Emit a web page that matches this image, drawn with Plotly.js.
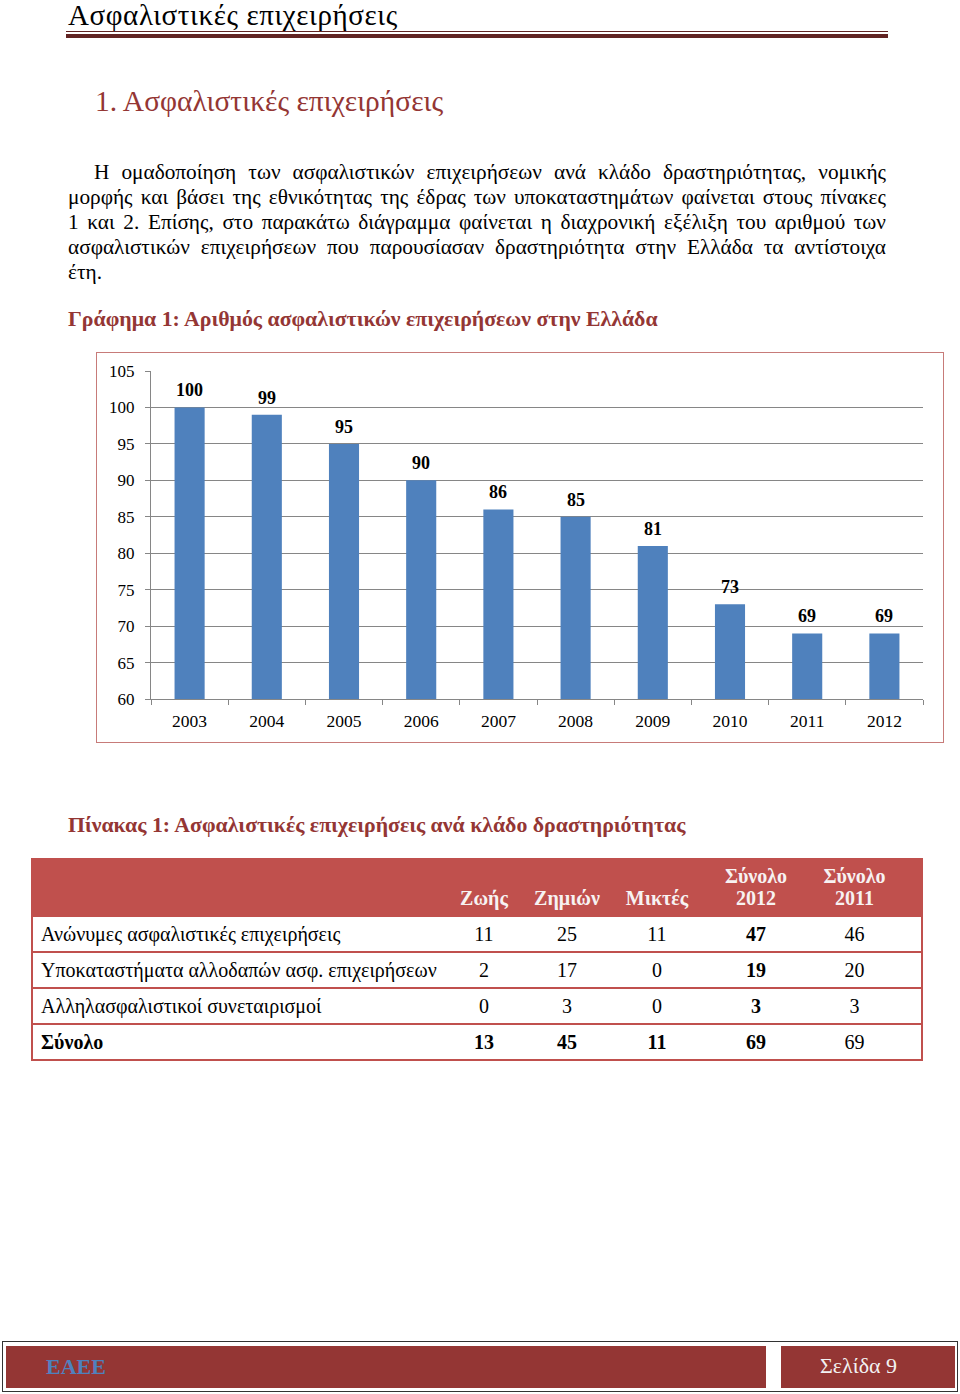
<!DOCTYPE html>
<html>
<head>
<meta charset="utf-8">
<script src="https://cdn.plot.ly/plotly-3.0.1.min.js"></script>
<style>
  html, body { margin:0; padding:0; background:#fff; }
  body { width:960px; height:1394px; position:relative; overflow:hidden; font-family:"Liberation Serif", "DejaVu Serif", serif; color:#000; }
  .abs { position:absolute; white-space:nowrap; }
  #hdr { left:68px; top:0px; font-size:29px; line-height:31px; letter-spacing:0.6px; }
  #hdrline1 { position:absolute; left:66px; top:31px; width:822px; height:1px; background:#622423; }
  #hdrline2 { position:absolute; left:66px; top:34px; width:822px; height:4px; background:#622423; }
  #sec { left:95px; top:84px; font-size:29.5px; line-height:34px; color:#943634; }
  .pl { position:absolute; left:68px; width:818px; font-size:21.3px; line-height:25px; text-align:justify; text-align-last:justify; white-space:nowrap; }
  .pl.last { text-align-last:left; }
  .cap { font-size:21.8px; font-weight:bold; color:#943634; line-height:26px; }
  #chartbox { position:absolute; left:96px; top:352px; width:846px; height:389px; border:1px solid #C77B79; pointer-events:none; }
  #chart { position:absolute; left:96px; top:352px; width:848px; height:391px; }
  table { position:absolute; left:31px; top:858px; width:890px; table-layout:fixed; border-collapse:collapse; font-size:20px; }
  th { background:#C0504D; color:#F7F2F2; font-weight:bold; vertical-align:bottom; line-height:22px; padding:0 0 6px 0; height:51px; text-align:center; }
  td { border-top:2px solid #C0504D; border-bottom:2px solid #C0504D; height:34px; padding:0; text-align:center; line-height:22px; }
  td:first-child { text-align:left; padding-left:8px; }
  tr td:first-child, tr th:first-child { border-left:2px solid #C0504D; }
  tr td:last-child, tr th:last-child { border-right:2px solid #C0504D; padding-right:19px; }
  tr.tot td { font-weight:bold; }
  tr.tot td:last-child { font-weight:normal; }
  td.b { font-weight:bold; }
  #foot { position:absolute; left:2px; top:1341px; width:954px; height:49px; border:1.5px solid #333; }
  #footL { position:absolute; left:6px; top:1346px; width:760px; height:42px; background:#943634; }
  #footR { position:absolute; left:781px; top:1346px; width:174px; height:42px; background:#943634; }
  #footL span { position:absolute; left:40px; top:8px; font-size:22px; font-weight:bold; color:#4F81BD; }
  #footR span { position:absolute; left:39px; top:7px; font-size:22px; color:#F2F2F2; white-space:nowrap; }
</style>
</head>
<body>
<div id="hdr" class="abs">Ασφαλιστικές επιχειρήσεις</div>
<div id="hdrline1"></div>
<div id="hdrline2"></div>
<div id="sec" class="abs">1. Ασφαλιστικές επιχειρήσεις</div>

<div class="pl" style="top:160px; left:94px; width:792px;">Η ομαδοποίηση των ασφαλιστικών επιχειρήσεων ανά κλάδο δραστηριότητας, νομικής</div>
<div class="pl" style="top:185px;">μορφής και βάσει της εθνικότητας της έδρας των υποκαταστημάτων φαίνεται στους πίνακες</div>
<div class="pl" style="top:210px;">1 και 2. Επίσης, στο παρακάτω διάγραμμα φαίνεται η διαχρονική εξέλιξη του αριθμού των</div>
<div class="pl" style="top:235px;">ασφαλιστικών επιχειρήσεων που παρουσίασαν δραστηριότητα στην Ελλάδα τα αντίστοιχα</div>
<div class="pl last" style="top:260px;">έτη.</div>

<div class="abs cap" style="left:68px; top:306px;">Γράφημα 1: Αριθμός ασφαλιστικών επιχειρήσεων στην Ελλάδα</div>

<div id="chart"></div>
<div id="chartbox"></div>

<div class="abs cap" style="left:68px; top:812px;">Πίνακας 1: Ασφαλιστικές επιχειρήσεις ανά κλάδο δραστηριότητας</div>

<table id="tbl"></table>

<div id="foot"></div>
<div id="footL"><span>ΕΑΕΕ</span></div>
<div id="footR"><span>Σελίδα 9</span></div>

<script>
// ---- Chart data ----
const years = ['2003','2004','2005','2006','2007','2008','2009','2010','2011','2012'];
const companies = [100, 99, 95, 90, 86, 85, 81, 73, 69, 69];

// ---- Table data ----
const colHeaders = ['Ζωής', 'Ζημιών', 'Μικτές', 'Σύνολο<br>2012', 'Σύνολο<br>2011'];
const rowLabels = ['Ανώνυμες ασφαλιστικές επιχειρήσεις', 'Υποκαταστήματα αλλοδαπών ασφ. επιχειρήσεων', 'Αλληλασφαλιστικοί συνεταιρισμοί', 'Σύνολο'];
const life = [11, 2, 0, 13];
const nonLife = [25, 17, 3, 45];
const mixed = [11, 0, 0, 11];
const total2012 = [47, 19, 3, 69];
const total2011 = [46, 20, 3, 69];

// Build table
const colWidths = [411, 82, 84, 96, 102, 115];
const tbl = document.getElementById('tbl');
let html = '<colgroup>' + colWidths.map(w => '<col style="width:' + w + 'px">').join('') + '</colgroup>';
html += '<tr><th></th>';
colHeaders.forEach(h => { html += '<th>' + h + '</th>'; });
html += '</tr>';
rowLabels.forEach((lab, r) => {
  const isTot = r === rowLabels.length - 1;
  html += '<tr' + (isTot ? ' class="tot"' : '') + '>';
  html += '<td>' + lab + '</td>';
  html += '<td>' + life[r] + '</td>';
  html += '<td>' + nonLife[r] + '</td>';
  html += '<td>' + mixed[r] + '</td>';
  html += '<td class="b">' + total2012[r] + '</td>';
  html += '<td>' + total2011[r] + '</td>';
  html += '</tr>';
});
tbl.innerHTML = html;

// Build chart
const serif = 'Liberation Serif, Times New Roman, serif';
const trace = {
  type: 'bar',
  x: years,
  y: companies,
  marker: { color: '#4F81BD', line: { width: 0 } },
  hoverinfo: 'none'
};
// annotation x given as category index (position on the category axis)
const annotations = years.map((yr, i) => ({
  x: i, y: companies[i], xref: 'x', yref: 'y',
  text: '<b>' + companies[i] + '</b>',
  showarrow: false, yanchor: 'bottom', yshift: 5,
  font: { family: serif, size: 18, color: '#000' }
}));
const layout = {
  width: 848, height: 391,
  margin: { l: 55, r: 21, t: 19, b: 44, pad: 0 },
  paper_bgcolor: 'rgba(0,0,0,0)',
  plot_bgcolor: 'rgba(0,0,0,0)',
  bargap: 0.61,
  showlegend: false,
  font: { family: serif, size: 17, color: '#000' },
  xaxis: {
    type: 'category',
    range: [-0.5, years.length - 0.5],
    showline: true, linecolor: '#868686', linewidth: 1,
    ticks: 'outside', tickson: 'boundaries', ticklen: 5, tickcolor: '#868686',
    showgrid: false, zeroline: false,
    tickfont: { family: serif, size: 17.5, color: '#000' },
    ticklabelstandoff: 6
  },
  yaxis: {
    range: [60, 105], dtick: 5, tick0: 60,
    showline: true, linecolor: '#868686', linewidth: 1,
    ticks: 'outside', ticklen: 5, tickcolor: '#868686',
    showgrid: true, gridcolor: '#868686', gridwidth: 1,
    zeroline: false,
    tickfont: { family: serif, size: 17, color: '#000' },
    ticklabelstandoff: 7
  },
  annotations: annotations
};
Plotly.newPlot('chart', [trace], layout, { staticPlot: true, displayModeBar: false });
</script>
</body>
</html>
